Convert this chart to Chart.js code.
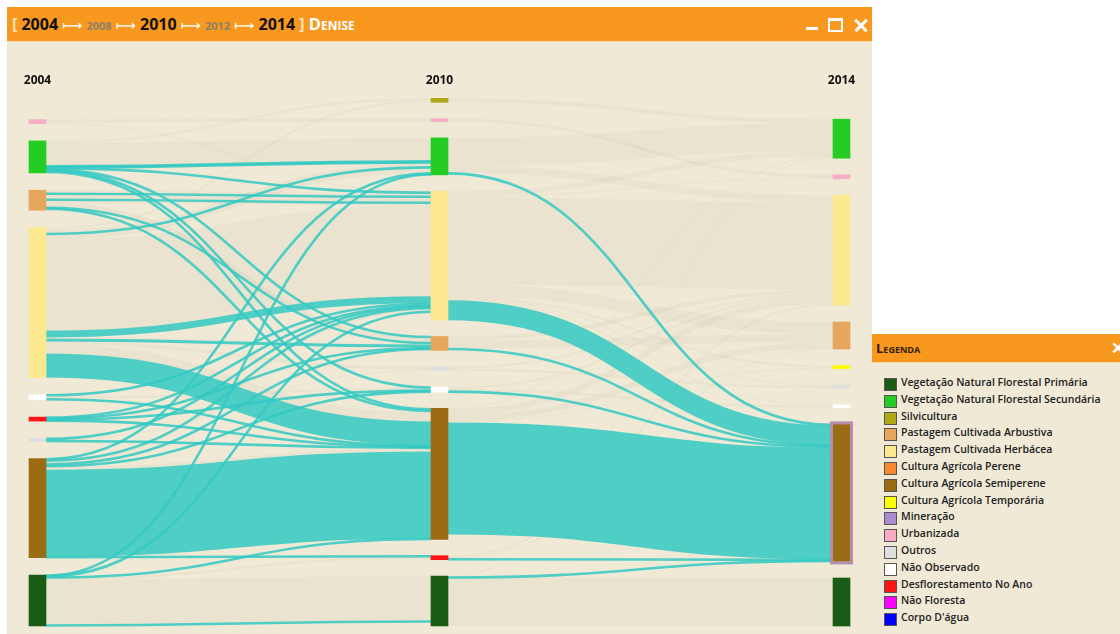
<!DOCTYPE html>
<html><head><meta charset="utf-8">
<script src="https://cdn.jsdelivr.net/npm/chart.js@4.4.0/dist/chart.umd.min.js"></script>
<style>
html,body{margin:0;padding:0;background:#fff;width:1120px;height:634px;overflow:hidden;font-family:"Open Sans",sans-serif;}
#win{position:absolute;left:7px;top:7px;width:865px;height:627px;background:#efe9d6;}
#bar{position:absolute;left:0;top:0;width:865px;height:35px;background:#f8981f;border-bottom:1px solid #f6dcae;box-sizing:border-box;}
#ttl{position:absolute;left:5px;top:5px;font-weight:700;font-size:16px;color:#111;white-space:nowrap;line-height:24px;}
#ttl .br{color:#fde3bd;}
#ttl .g{color:#8d8168;font-size:11px;}
#ttl .ar{color:#fff;font-family:"DejaVu Sans";font-weight:400;font-size:14px;}
#ttl .nm{color:#fff;font-variant:small-caps;font-size:16.5px;}
#mn{position:absolute;left:799px;top:20px;width:12px;height:3px;background:#fff;}
#mx{position:absolute;left:821px;top:11px;width:11px;height:9px;border:2px solid #fff;border-top-width:3px;}
#cl1,#cl2{position:absolute;left:846px;top:17px;width:16px;height:2.6px;background:#fff;}
#cl1{transform:rotate(45deg);}#cl2{transform:rotate(-45deg);}
#cv{position:absolute;left:0;top:35px;}
#leg{position:absolute;left:872px;top:334px;width:248px;height:300px;background:#efe9d6;}
#lh{position:absolute;left:0;top:0;width:248px;height:29px;background:#f8981f;border-bottom:1px solid #f6dcae;box-sizing:border-box;}
#lh span{position:absolute;left:4px;top:5px;font-weight:700;font-size:13px;color:#2e1e05;font-variant:small-caps;}
#lh b{position:absolute;left:239px;top:2px;color:#fff;font-size:17px;font-weight:700;}
.it{position:absolute;left:12px;height:14px;white-space:nowrap;}
.it i{position:absolute;left:0;top:0;width:11px;height:11px;border:1px solid #555;}
.it span{position:absolute;left:17px;top:-3px;font-size:10.5px;font-weight:600;color:#222;}
</style></head>
<body>
<div id="win">
 <div id="bar">
  <div id="ttl"><span class="br">[</span> <span class="y">2004</span> <span class="ar">⟼</span> <span class="g">2008</span> <span class="ar">⟼</span> <span class="y">2010</span> <span class="ar">⟼</span> <span class="g">2012</span> <span class="ar">⟼</span> <span class="y">2014</span> <span class="br">]</span> <span class="nm">Denise</span></div>
  <div id="mn"></div><div id="mx"></div><div id="cl1"></div><div id="cl2"></div>
 </div>
 <canvas id="cv" width="865" height="592"></canvas>
</div>
<div id="leg"><div id="lh"><span>Legenda</span><b>✕</b></div></div>
<script>
// ---- data ----
const years = ['2004', '2010', '2014'];
const legendKeys = ['PRI','SEC','SIL','ARB','HER','PER','SEM','TEM','MIN','URB','OUT','NOB','DES','NFL','AGU'];
const legendNames = ['Vegetação Natural Florestal Primária','Vegetação Natural Florestal Secundária','Silvicultura','Pastagem Cultivada Arbustiva','Pastagem Cultivada Herbácea','Cultura Agrícola Perene','Cultura Agrícola Semiperene','Cultura Agrícola Temporária','Mineração','Urbanizada','Outros','Não Observado','Desflorestamento No Ano','Não Floresta',"Corpo D'água"];
const legendColors = ['#1a5c16','#24cc24','#ada814','#e6a65d','#fce98f','#f7892e','#9c6c15','#ffff00','#a98bcf','#f8adc6','#dfdfe0','#ffffff','#ff1414','#ff00ff','#0000ff'];
const col2004 = ['URB','SEC','ARB','HER','NOB','DES','OUT','SEM','PRI'];
const col2010 = ['SIL','URB','SEC','HER','ARB','OUT','NOB','SEM','DES','PRI'];
const col2014 = ['SEC','URB','HER','ARB','TEM','OUT','NOB','SEM','PRI'];
// [from, to, value, highlighted]
const flows0410 = [
 ['URB','URB',3,0],['URB','HER',1,0],
 ['SEC','SIL',2,0],['SEC','SEC',23,0],['SEC','SEC',1,1],['SEC','SEC',1,1],['SEC','HER',1,1],['SEC','ARB',1,1],['SEC','NOB',1,1],['SEC','SEM',2,1],
 ['ARB','HER',3,0],['ARB','HER',1,1],['ARB','HER',5,0],['ARB','HER',1,1],['ARB','HER',2,0],['ARB','ARB',5,0],['ARB','ARB',1,1],['ARB','SEM',1,1],['ARB','SEM',1,0],
 ['HER','SIL',2,0],['HER','SEC',4,0],['HER','SEC',1,1],['HER','SEC',5,0],['HER','HER',91,0],['HER','HER',7,1],['HER','ARB',1,0],['HER','ARB',3,1],['HER','OUT',3,0],['HER','SEM',9,0],['HER','SEM',24,1],
 ['NOB','HER',1,1],['NOB','HER',1,0],['NOB','NOB',2,0],['NOB','SEM',1,1],
 ['DES','HER',1,1],['DES','ARB',1,1],['DES','NOB',1,1],['DES','SEM',1,1],
 ['OUT','HER',1,1],['OUT','OUT',1,0],['OUT','SEM',1,1],
 ['SEM','SEC',1,1],['SEM','HER',2,1],['SEM','HER',2,0],['SEM','ARB',1,1],['SEM','ARB',1,0],['SEM','NOB',1,1],['SEM','SEM',3,0],['SEM','SEM',87,1],['SEM','DES',1,1],
 ['PRI','SEC',1,1],['PRI','HER',1,1],['PRI','SEM',1,1],['PRI','DES',2,0],['PRI','PRI',45,0],['PRI','PRI',1,1]
];
const flows1014 = [
 ['SIL','SEC',4,0],
 ['URB','URB',3,0],
 ['SEC','SEC',28,0],['SEC','HER',7,0],['SEC','SEM',1,1],
 ['HER','SEC',5,0],['HER','URB',1,0],['HER','HER',87,0],['HER','ARB',12,0],['HER','TEM',2,0],['HER','OUT',1,0],['HER','NOB',1,0],['HER','SEM',20,1],
 ['ARB','HER',4,0],['ARB','ARB',8,0],['ARB','SEM',1,1],
 ['OUT','HER',2,0],['OUT','OUT',2,0],
 ['NOB','HER',2,0],['NOB','NOB',2,0],['NOB','SEM',1,1],
 ['SEM','SEC',1,0],['SEM','HER',6,0],['SEM','ARB',6,0],['SEM','TEM',1,0],['SEM','SEM',112,1],
 ['DES','HER',2,0],['DES','ARB',1,0],['DES','SEM',1,1],
 ['PRI','SEC',1,0],['PRI','SEM',1,1],['PRI','PRI',48,0]
];
const selectedNode = [2, 'SEM'];

// ---- legend ----
const leg = document.getElementById('leg');
legendNames.forEach((nm, i) => {
  const d = document.createElement('div');
  d.className = 'it';
  d.style.top = (44 + i * 16.8) + 'px';
  d.innerHTML = '<i style="background:' + legendColors[i] + '"></i><span>' + nm + '</span>';
  leg.appendChild(d);
});

// ---- sankey layout (value units) ----
const colorOf = k => legendColors[legendKeys.indexOf(k)];
const cols = [col2004, col2010, col2014];
const nodes = cols.map((c, ci) => c.map(k => ({ key: k, col: ci, inV: 0, outV: 0, ins: [], outs: [] })));
const findNode = (ci, k) => nodes[ci].find(n => n.key === k);
const links = [];
[flows0410, flows1014].forEach((fl, ci) => fl.forEach((f, idx) => {
  const s = findNode(ci, f[0]), t = findNode(ci + 1, f[1]);
  const l = { s, t, v: f[2], hl: f[3], idx };
  links.push(l); s.outs.push(l); t.ins.push(l); s.outV += f[2]; t.inV += f[2];
}));
const COL_GAP = [17.3, 16.3, 16.6], BOTTOM = 534;
nodes.forEach((col, ci) => {
  let y = BOTTOM;
  for (let i = col.length - 1; i >= 0; i--) {
    const n = col[i];
    n.v = Math.max(n.inV, n.outV);
    n.y1 = y; n.y0 = y - n.v; y = n.y0 - COL_GAP[ci];
  }
});
nodes.flat().forEach(n => {
  n.outs.sort((a, b) => (a.t.y0 - b.t.y0) || (a.idx - b.idx));
  let y = n.y0; n.outs.forEach(l => { l.sy = y; y += l.v; });
  n.ins.sort((a, b) => (a.s.y0 - b.s.y0) || (a.idx - b.idx));
  y = n.y0; n.ins.forEach(l => { l.ty = y; y += l.v; });
});
const flatNodes = nodes.flat();
const barData = flatNodes.map(n => ({ x: n.col, y: [n.y0, n.y1] }));
const barColors = flatNodes.map(n => colorOf(n.key));
const selIndex = flatNodes.findIndex(n => n.col === selectedNode[0] && n.key === selectedNode[1]);

const HALF = 8.5;
const flowPlugin = {
  id: 'flows',
  beforeDatasetsDraw(chart) {
    const { ctx } = chart, xs = chart.scales.x, ys = chart.scales.y;
    const ppu = Math.abs(ys.getPixelForValue(1) - ys.getPixelForValue(0));
    ctx.save();
    [0, 1].forEach(pass => links.filter(l => l.hl === pass).forEach(l => {
      const x0 = xs.getPixelForValue(l.s.col) + HALF, x1 = xs.getPixelForValue(l.t.col) - HALF;
      const y0 = ys.getPixelForValue(l.sy + l.v / 2), y1 = ys.getPixelForValue(l.ty + l.v / 2);
      const xm = (x0 + x1) / 2;
      ctx.beginPath(); ctx.moveTo(x0, y0); ctx.bezierCurveTo(xm, y0, xm, y1, x1, y1);
      ctx.lineWidth = Math.max(l.v * ppu, pass ? 2.6 : 1);
      ctx.strokeStyle = pass ? 'rgba(50,201,195,0.85)' : 'rgba(150,135,95,0.06)';
      ctx.stroke();
    }));
    ctx.restore();
  },
  afterDatasetsDraw(chart) {
    const el = chart.getDatasetMeta(0).data[selIndex];
    if (!el) return;
    const p = el.getProps(['x', 'y', 'base', 'width'], true);
    const { ctx } = chart;
    ctx.save();
    ctx.strokeStyle = '#b48fae'; ctx.lineWidth = 3;
    ctx.strokeRect(p.x - p.width / 2 - 1.5, Math.min(p.y, p.base) - 1.5, p.width + 3, Math.abs(p.base - p.y) + 3);
    ctx.restore();
  }
};

new Chart(document.getElementById('cv').getContext('2d'), {
  type: 'bar',
  data: { datasets: [{ data: barData, backgroundColor: barColors, borderWidth: 0, barThickness: 17, grouped: false, clip: false }] },
  options: {
    responsive: false, animation: false, events: [],
    layout: { padding: { left: 30.5, right: 30.5, top: 27.6, bottom: 8 } },
    plugins: { legend: { display: false }, tooltip: { enabled: false } },
    scales: {
      x: {
        type: 'linear', position: 'top', min: 0, max: 2, offset: false,
        afterBuildTicks: s => { s.ticks = [0, 1, 2].map(v => ({ value: v })); },
        ticks: { callback: v => years[v], font: { family: 'Open Sans', weight: 'bold', size: 12 }, color: '#111', padding: 4, maxRotation: 0, autoSkip: false },
        grid: { display: false, drawTicks: false }, border: { display: false }
      },
      y: { type: 'linear', min: 0, max: BOTTOM, reverse: true, display: false }
    }
  },
  plugins: [flowPlugin]
});
</script>
</body></html>
